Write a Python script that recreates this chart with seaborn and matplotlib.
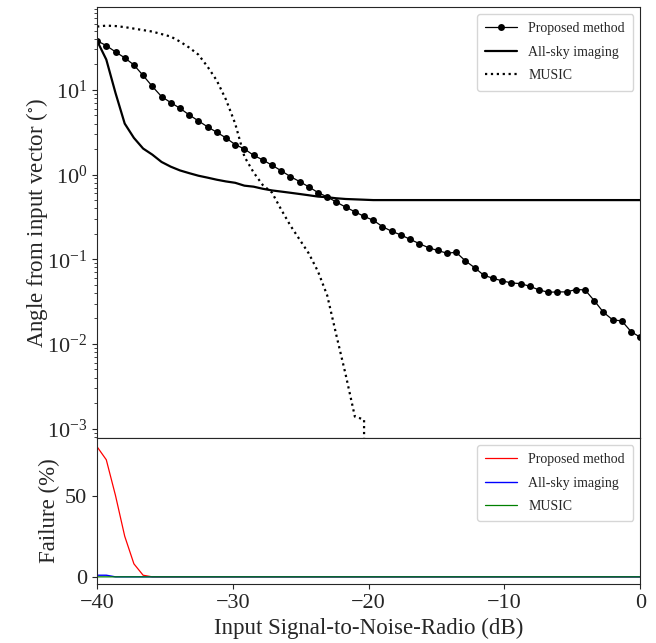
import numpy as np
import pandas as pd
import matplotlib
matplotlib.use("Agg")
import matplotlib.pyplot as plt
import seaborn as sns

# SNR axis (dB), 60 samples from -40 to 0
snr = np.linspace(-40, 0, 60)

# Angle from input vector (deg)
proposed = [38.0, 33.3, 28.1, 23.9, 19.7, 14.8, 11.0, 8.34, 7.08, 6.07,
            5.07, 4.31, 3.66, 3.16, 2.71, 2.26, 2.01, 1.69, 1.49, 1.29,
            1.11, 0.947, 0.827, 0.716, 0.613, 0.545, 0.473, 0.413, 0.364, 0.321,
            0.289, 0.243, 0.214, 0.194, 0.172, 0.153, 0.137, 0.127, 0.118, 0.121,
            0.0958, 0.0798, 0.0648, 0.0597, 0.0556, 0.0526, 0.0516, 0.0480, 0.0435, 0.0408,
            0.0412, 0.0412, 0.0439, 0.0435, 0.0325, 0.0237, 0.0193, 0.0187, 0.0140, 0.0120]
allsky = [38.0, 22.8, 9.2, 4.0, 2.71, 2.03, 1.72, 1.41, 1.24, 1.12,
          1.04, 0.97, 0.92, 0.87, 0.83, 0.80, 0.74, 0.72, 0.68, 0.65,
          0.63, 0.61, 0.59, 0.57, 0.55, 0.54, 0.525, 0.515, 0.51, 0.505,
          0.5, 0.5, 0.5, 0.5, 0.5, 0.5, 0.5, 0.5, 0.5, 0.5,
          0.5, 0.5, 0.5, 0.5, 0.5, 0.5, 0.5, 0.5, 0.5, 0.5,
          0.5, 0.5, 0.5, 0.5, 0.5, 0.5, 0.5, 0.5, 0.5, 0.5]
music = [55.9, 57.4, 56.7, 55.1, 52.9, 50.8, 48.8, 45.6, 42.6, 37.2,
         31.6, 26.1, 18.8, 12.9, 7.68, 4.0, 1.63, 1.06, 0.752, 0.613,
         0.386, 0.250, 0.171, 0.117, 0.0716, 0.0373, 0.01256, 0.00435, 0.00139, 0.00128,
         0, 0, 0, 0, 0, 0, 0, 0, 0, 0,
         0, 0, 0, 0, 0, 0, 0, 0, 0, 0,
         0, 0, 0, 0, 0, 0, 0, 0, 0, 0]

# Failure rate (%)
fail_proposed = [80, 72, 50, 25, 8, 1] + [0] * 54
fail_allsky = [1, 1] + [0] * 58
fail_music = [0] * 60

df = pd.DataFrame({"snr": snr, "proposed": proposed, "allsky": allsky, "music": music,
                   "f_prop": fail_proposed, "f_sky": fail_allsky, "f_music": fail_music})

sns.set_style("ticks")
plt.rcParams["font.family"] = "serif"
plt.rcParams["font.serif"] = ["Liberation Serif", "DejaVu Serif"]
plt.rcParams["mathtext.fontset"] = "stix"
plt.rcParams["xtick.direction"] = "out"
plt.rcParams["ytick.direction"] = "out"

fig, (ax1, ax2) = plt.subplots(2, 1, sharex=True, figsize=(6.56, 6.43), dpi=100,
                               gridspec_kw={"height_ratios": [2.95, 1]})
fig.subplots_adjust(left=0.148, right=0.976, top=0.989, bottom=0.092, hspace=0)

leg_kw = dict(loc="upper right", fontsize=10, labelspacing=0.75, borderpad=0.6,
              handlelength=2.3)

### Top: angle error ###
sns.lineplot(data=df, x="snr", y="proposed", ax=ax1, color="k", lw=0.9, marker="o",
             markersize=5, markeredgewidth=0, label="Proposed method", estimator=None)
sns.lineplot(data=df, x="snr", y="allsky", ax=ax1, color="k", lw=1.6,
             label="All-sky imaging", estimator=None)
sns.lineplot(data=df, x="snr", y="music", ax=ax1, color="k", lw=1.6, linestyle=":",
             label="MUSIC", estimator=None)
ax1.set_yscale("log")
ax1.set_ylim(7.8e-4, 95)
ax1.set_ylabel("Angle from input vector ($^{\\circ}$)", fontsize=16.5, labelpad=-2)
ax1.set_xlabel("")
ax1.tick_params(axis="x", bottom=False)
ax1.tick_params(axis="y", labelsize=16)
ax1.legend(**leg_kw)

### Bottom: failure rate ###
sns.lineplot(data=df, x="snr", y="f_prop", ax=ax2, color="r", lw=0.9,
             label="Proposed method", estimator=None)
sns.lineplot(data=df, x="snr", y="f_sky", ax=ax2, color="b", lw=1.0,
             label="All-sky imaging", estimator=None)
sns.lineplot(data=df, x="snr", y="f_music", ax=ax2, color="g", lw=0.9,
             label="MUSIC", estimator=None, snap=False)
ax2.set_xlim(-40, 0)
ax2.set_ylim(-4.3, 85.5)
ax2.set_yticks([0, 50])
ax2.set_xticks([-40, -30, -20, -10, 0])
ax2.set_ylabel("Failure (%)", fontsize=16.5)
ax2.set_xlabel("Input Signal-to-Noise-Radio (dB)", fontsize=16.5)
ax2.tick_params(labelsize=16)
ax2.legend(**leg_kw)

plt.savefig("out.png", dpi=100)
